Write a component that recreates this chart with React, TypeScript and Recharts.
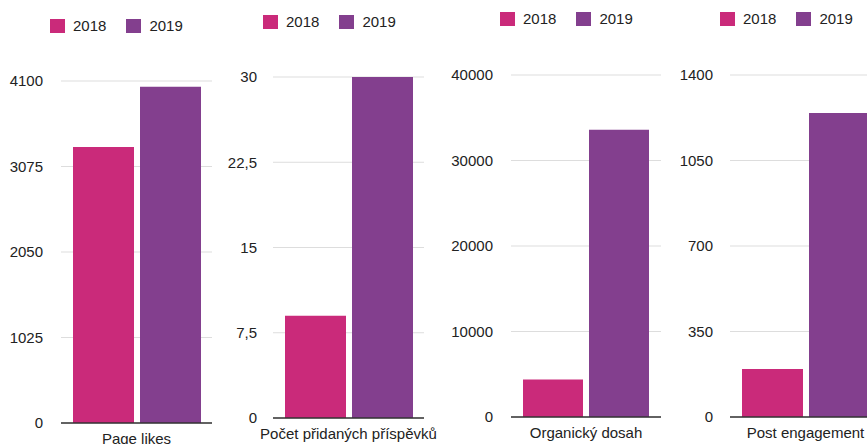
import { BarChart, Bar, XAxis, YAxis, CartesianGrid } from "recharts";

const categories = ["Page likes", "Počet přidaných příspěvků", "Organický dosah", "Post engagement"];
const seriesNames = ["2018", "2019"];
const values2018 = [3310, 9, 4400, 196];
const values2019 = [4030, 30, 33600, 1244];
const axisMax = [4100, 30, 40000, 1400];
const tickValues = [
  [0, 1025, 2050, 3075, 4100],
  [0, 7.5, 15, 22.5, 30],
  [0, 10000, 20000, 30000, 40000],
  [0, 350, 700, 1050, 1400],
];

const COLORS = ["#ca2a7a", "#833f8e"];
const FONT = "'Liberation Sans', Arial, Helvetica, sans-serif";
const AXIS_W = 60;
const RIGHT_PAD = 24;

// plot box of each small chart on the page, plus where its legend sits
const layout = [
  { plotX: 61, plotW: 151, top: 81, bottom: 423, gap: 18, legX: 50, legY: 19 },
  { plotX: 273, plotW: 151, top: 77, bottom: 418, gap: 16, legX: 263, legY: 15 },
  { plotX: 511, plotW: 150, top: 75, bottom: 417, gap: 18, legX: 500, legY: 12 },
  { plotX: 730, plotW: 151, top: 75, bottom: 417, gap: 17, legX: 720, legY: 12 },
];

const fmt = (v: number) => String(v).replace(".", ",");

// single-line category label (the default tick wraps long names)
const CategoryTick = ({ x, y, payload }: any) => (
  <text x={x} y={y} dy={11} textAnchor="middle" fill="#222" fontSize={15} fontFamily={FONT}>
    {payload.value}
  </text>
);

function LegendRow({ x, y }: { x: number; y: number }) {
  return (
    <div style={{ position: "absolute", left: x, top: y, display: "flex", alignItems: "center",
      fontFamily: FONT, fontSize: 15, color: "#222", lineHeight: "14px" }}>
      {seriesNames.map((name, i) => (
        <div key={name} style={{ display: "flex", alignItems: "center", marginRight: 20 }}>
          <span style={{ width: 15, height: 14, background: COLORS[i], display: "inline-block", marginRight: 8 }} />
          <span>{name}</span>
        </div>
      ))}
    </div>
  );
}

function Panel({ idx }: { idx: number }) {
  const l = layout[idx];
  const data = [{ name: categories[idx], y2018: values2018[idx], y2019: values2019[idx] }];
  return (
    <div style={{ position: "absolute", left: l.plotX - AXIS_W, top: 0 }}>
      <BarChart width={AXIS_W + l.plotW + RIGHT_PAD} height={l.bottom + 30} data={data}
        margin={{ top: l.top, right: RIGHT_PAD, left: 0, bottom: 0 }} barCategoryGap={12} barGap={6}>
        <CartesianGrid vertical={false} stroke="#dddddd" strokeWidth={1.2} />
        <XAxis dataKey="name" height={30} tickLine={false} tickSize={0} tickMargin={10}
          axisLine={{ stroke: "#333", strokeWidth: 1.5 }} tick={<CategoryTick />} />
        <YAxis width={AXIS_W} domain={[0, axisMax[idx]]} ticks={tickValues[idx]} interval={0}
          axisLine={false} tickLine={false} tickSize={0} tickMargin={l.gap} tickFormatter={fmt}
          tick={{ fill: "#222", fontSize: 15, fontFamily: FONT }} />
        <Bar dataKey="y2018" name={seriesNames[0]} fill={COLORS[0]} isAnimationActive={false} />
        <Bar dataKey="y2019" name={seriesNames[1]} fill={COLORS[1]} isAnimationActive={false} />
      </BarChart>
    </div>
  );
}

export default function App() {
  return (
    <div style={{ position: "absolute", left: 0, top: 0, width: 867, height: 444, overflow: "hidden", background: "#fff" }}>
      {categories.map((_, i) => (
        <Panel key={i} idx={i} />
      ))}
      {layout.map((l, i) => (
        <LegendRow key={i} x={l.legX} y={l.legY} />
      ))}
    </div>
  );
}
